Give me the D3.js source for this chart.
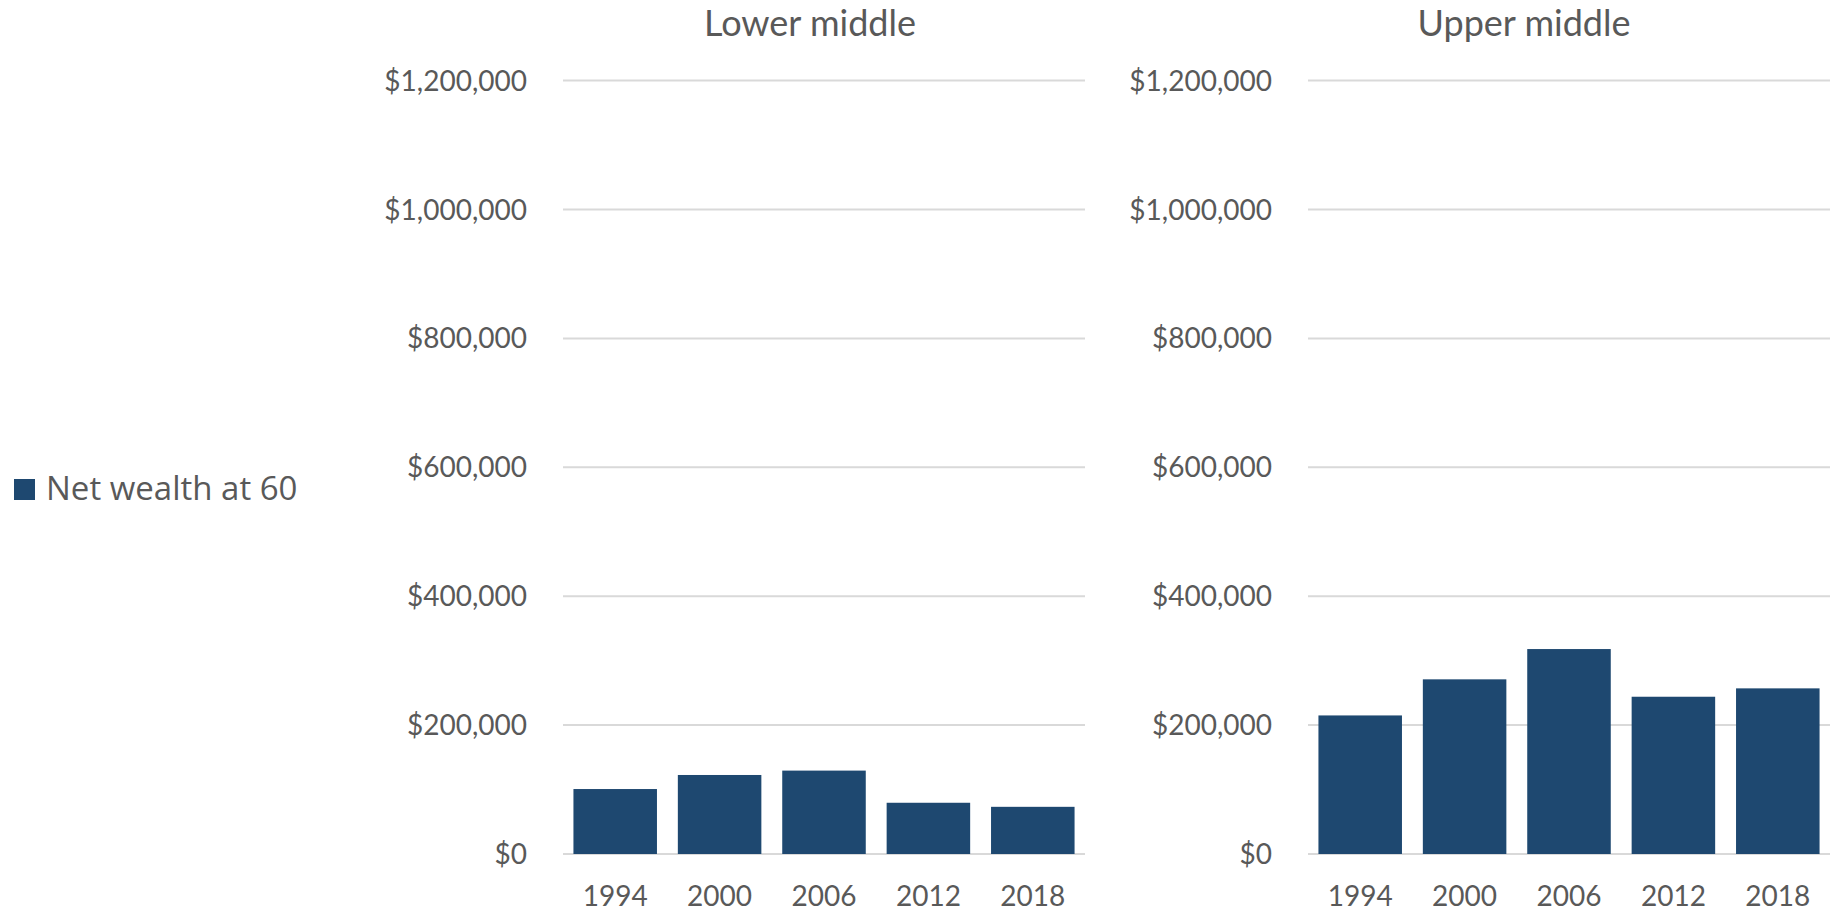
<!DOCTYPE html>
<html>
<head>
<meta charset="utf-8">
<script src="https://cdn.jsdelivr.net/npm/d3@7"></script>
<style>
  html, body { margin: 0; padding: 0; background: #ffffff; }
  svg { display: block; }
</style>
</head>
<body>
<svg id="chart" width="1832" height="916"></svg>
<script>
// Net wealth at age 60, by survey year, for two income groups
const years = ["1994", "2000", "2006", "2012", "2018"];
const lowerMiddle = [100800, 122600, 129400, 79500, 73200];
const upperMiddle = [215000, 271000, 318000, 244000, 257000];
const panelTitles = ["Lower middle", "Upper middle"];
const yTicks = [0, 200000, 400000, 600000, 800000, 1000000, 1200000];
const seriesName = "Net wealth at 60";

const barColor = "#1e4870";
const textColor = "#595959";
const gridColor = "#d9d9d9";
const axisFont = "Lato, 'Noto Sans', sans-serif";

const svg = d3.select("#chart");
const plotTop = 80.6, plotBottom = 854;
const plotWidth = 522;
const panels = [
  { title: panelTitles[0], values: lowerMiddle, x0: 563, titleShift: -14 },
  { title: panelTitles[1], values: upperMiddle, x0: 1308, titleShift: -45 }
];

const y = d3.scaleLinear().domain([0, 1200000]).range([plotBottom, plotTop]);
const fmt = v => "$" + d3.format(",")(v);

panels.forEach(p => {
  const x = d3.scaleBand()
    .domain(years)
    .range([p.x0, p.x0 + plotWidth])
    .paddingInner(0.2)
    .paddingOuter(0.1);

  const g = svg.append("g");

  // horizontal gridlines
  g.selectAll("line.grid")
    .data(yTicks)
    .join("line")
    .attr("class", "grid")
    .attr("x1", p.x0)
    .attr("x2", p.x0 + plotWidth)
    .attr("y1", d => y(d))
    .attr("y2", d => y(d))
    .attr("stroke", gridColor)
    .attr("stroke-width", 2);

  // y tick labels
  g.selectAll("text.ytick")
    .data(yTicks)
    .join("text")
    .attr("class", "ytick")
    .attr("x", p.x0 - 36)
    .attr("y", d => y(d))
    .attr("dy", "0.36em")
    .attr("text-anchor", "end")
    .attr("fill", textColor)
    .style("font-family", axisFont)
    .style("font-size", "28px")
    .text(fmt);

  // bars
  g.selectAll("rect.bar")
    .data(p.values.map((v, i) => ({ year: years[i], value: v })))
    .join("rect")
    .attr("class", "bar")
    .attr("x", d => x(d.year))
    .attr("width", x.bandwidth())
    .attr("y", d => y(d.value))
    .attr("height", d => y(0) - y(d.value))
    .attr("fill", barColor);

  // x tick labels
  g.selectAll("text.xtick")
    .data(years)
    .join("text")
    .attr("class", "xtick")
    .attr("x", d => x(d) + x.bandwidth() / 2)
    .attr("y", 906)
    .attr("text-anchor", "middle")
    .attr("fill", textColor)
    .style("font-family", axisFont)
    .style("font-size", "28px")
    .text(d => d);

  // panel title
  g.append("text")
    .attr("x", p.x0 + plotWidth / 2 + p.titleShift)
    .attr("y", 36)
    .attr("text-anchor", "middle")
    .attr("fill", textColor)
    .style("font-family", axisFont)
    .style("font-size", "36px")
    .text(p.title);
});

// legend
const legend = svg.append("g");
legend.append("rect")
  .attr("x", 14).attr("y", 479)
  .attr("width", 21).attr("height", 21)
  .attr("fill", barColor);
legend.append("text")
  .attr("x", 46).attr("y", 500)
  .attr("fill", textColor)
  .style("font-family", "'Open Sans', sans-serif")
  .style("font-size", "33px")
  .text(seriesName);
</script>
</body>
</html>
